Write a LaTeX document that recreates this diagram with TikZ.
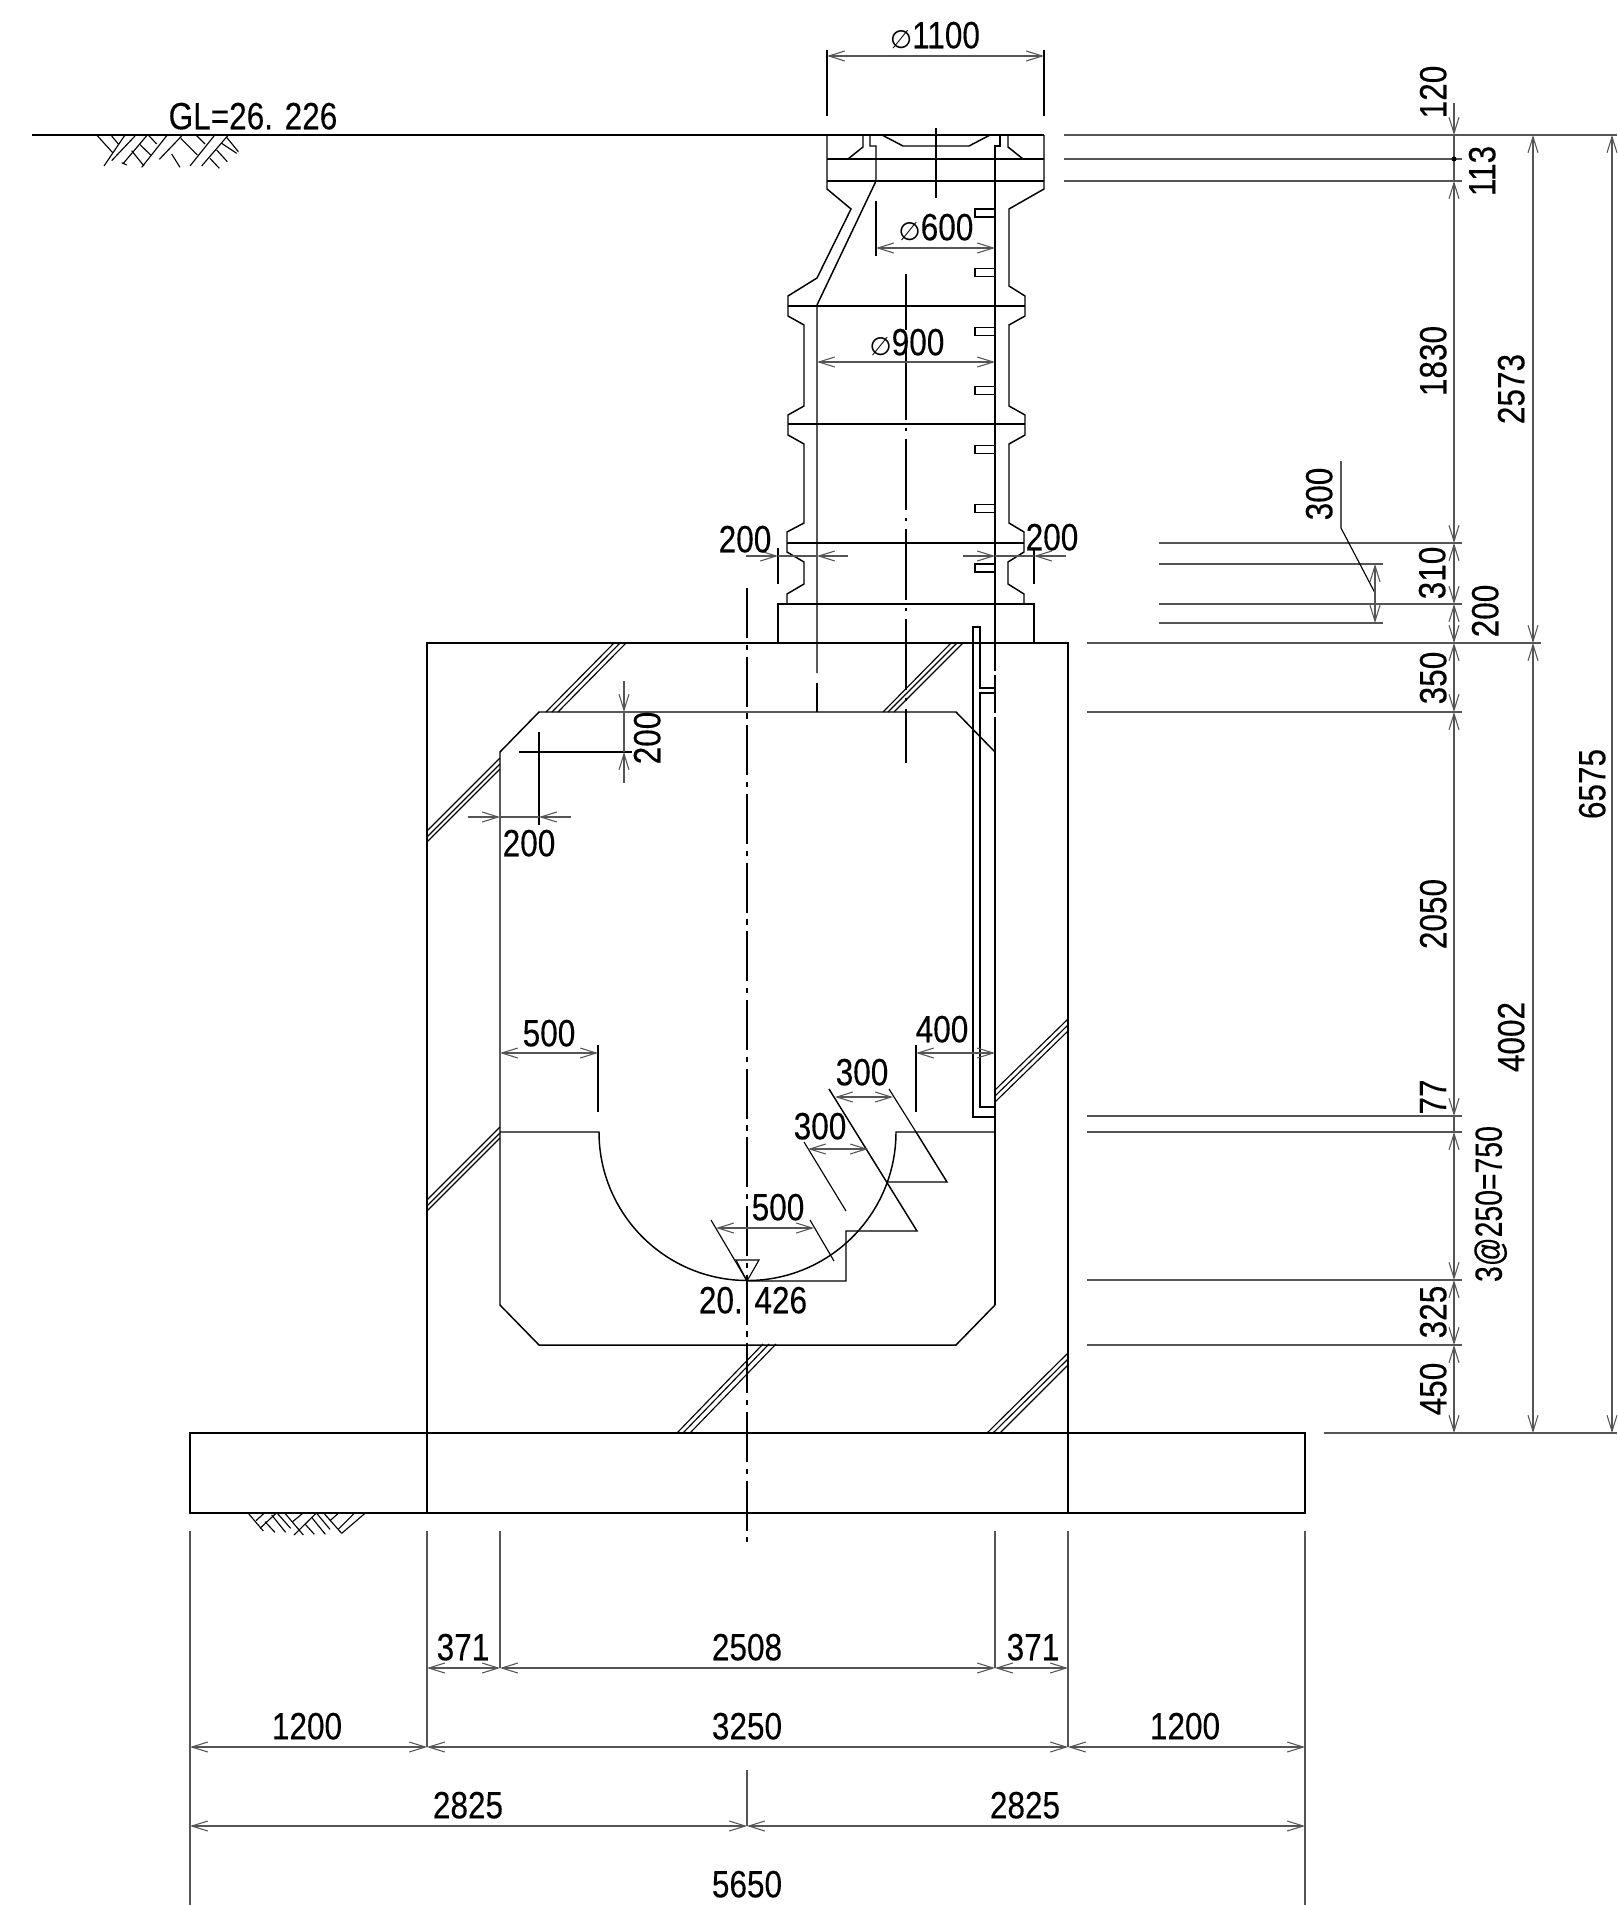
\documentclass[tikz,border=0pt]{standalone}
\usepackage{fontspec}
\setmainfont[FakeStretch=0.83,FakeBold=0.2]{Liberation Sans}
\newfontfamily\dejav{DejaVu Sans}
\usetikzlibrary{arrows.meta}
\definecolor{dimgray}{HTML}{555555}
\newcommand{\dia}{{\dejav\fontsize{19}{19}\selectfont ∅}}
\tikzset{
  part/.style={draw=black,line width=1.1pt,line join=miter},
  thin part/.style={draw=black,line width=.85pt},
  dimline/.style={draw=dimgray,line width=.8pt},
  extline/.style={draw=dimgray,line width=.9pt},
  dimarrow/.style={dimline,{Straight Barb[length=12pt,width=7.5pt]}-{Straight Barb[length=12pt,width=7.5pt]}},
  dimto/.style={dimline,-{Straight Barb[length=12pt,width=7.5pt]}},
  lbl/.style={inner sep=0pt,font=\fontsize{28.5}{30}\selectfont,text depth=0pt},
  rlbl/.style={lbl,rotate=90},
  centerl/.style={draw=black,line width=.95pt,dash pattern=on 37.5pt off 5pt on 4pt off 5pt},
  centerm/.style={draw=black,line width=.95pt,dash pattern=on 53pt off 6pt on 2.5pt off 6pt,dash phase=11pt},
}
\begin{document}
\begin{tikzpicture}[x=.75pt,y=-.75pt]
\useasboundingbox (0,0) rectangle (1617,1905);
\clip (0,0) rectangle (1617,1905);

% ground line
\draw[part] (32,135) -- (1044,135);
\draw[extline] (1064,135) -- (1617,135);

% soil hatch, top
\begin{scope}[shift={(90,130)},x=.25pt,y=-.25pt]
\foreach \a/\b/\c/\d in {20/15/68/68,65/18/85/42,105/15/42/108,135/18/65/92,172/15/100/100,95/98/110/105,125/62/162/108,148/42/182/75,175/15/200/42,232/15/155/112,275/18/208/88,272/25/322/75,245/72/270/112,318/15/345/42,372/18/300/108,415/15/335/108,380/60/412/95,360/85/388/115,395/40/440/70,410/22/445/65}
  \draw[thin part] (\a,\b) -- (\c,\d);
\end{scope}
% soil hatch, bottom
\begin{scope}[shift={(220,1400)},x=.25pt,y=-.25pt]
\foreach \a/\b/\c/\d in {85/340/130/393,132/340/108/362,170/338/120/385,135/365/165/397,155/345/197/397,172/340/212/385,195/340/250/405,248/340/218/365,288/340/222/405,255/372/283/403,275/352/316/403,290/340/330/388,312/340/365/400,355/340/330/362,403/340/355/388,435/340/365/400}
  \draw[thin part] (\a,\b) -- (\c,\d);
\end{scope}

% riser outline
\draw[part] (827,135) -- (827,189) -- (851,209) -- (817,278) -- (788,296) -- (788,316) -- (804,325) -- (804,406) -- (788,415) -- (788,435) -- (804,444) -- (804,523) -- (787,532) -- (787,552) -- (804,562) -- (804,584) -- (787,594) -- (787,604);
\draw[part] (1044,135) -- (1044,189) -- (1009,209) -- (1009,286) -- (1025,296) -- (1025,316) -- (1009,325) -- (1009,406) -- (1025,415) -- (1025,435) -- (1009,444) -- (1009,523) -- (1024,532) -- (1024,552) -- (1008,562) -- (1008,584) -- (1024,594) -- (1024,604);
\draw[part] (827,159) -- (1044,159);
\draw[part] (827,181) -- (1044,181);
\draw[part] (788,306) -- (1025,306);
\draw[part] (788,424) -- (1025,424);
\draw[part] (787,543) -- (1024,543);
% cover details
\draw[part] (863,135) -- (863,147) -- (848,159);
\draw[part] (1008,135) -- (1008,147) -- (1023,159);
\draw[part] (882,135) -- (903,146) -- (969,146) -- (990,135);
% inner walls
\draw[part] (870,135) -- (870,146) -- (876,146) -- (876,181) -- (817,305) -- (817,673);
\draw[part] (817,683) -- (817,712);
\draw[part] (1000,135) -- (1000,146) -- (995,146) -- (995,671);
\draw[part] (995,675) -- (995,713);
\draw[part] (995,717) -- (995,1305);
% ladder rungs
\foreach \r in {213,272.5,331.5,390.5,449.5,508.5,568}
  \draw[part] (995,\r-4) -- (975,\r-4) -- (975,\r+4) -- (995,\r+4);
% base block
\draw[part] (778,643) -- (778,604) -- (1034,604) -- (1034,643);
% box
\draw[part] (427,1433) -- (427,643) -- (1068,643) -- (1068,1433);
\draw[part] (190,1433) rectangle (1305,1513);
\draw[part] (427,1433) -- (427,1513);
\draw[part] (1068,1433) -- (1068,1513);
% culvert interior
\draw[part] (995,752) -- (956,712) -- (539,712) -- (500,752) -- (500,1305) -- (539,1345) -- (956,1345) -- (995,1305);
% bench and channel
\draw[part] (500,1132) -- (599,1132) arc[start angle=180,end angle=0,radius=148.5] -- (995,1132);
\draw[part] (916,1132) -- (947,1182) -- (888,1182);
\draw[part] (829,1089) -- (917,1231) -- (846,1231) -- (846,1281) -- (747,1281);
% ladder rail
\draw[part] (995,1117) -- (973,1117) -- (973,627) -- (980,627) -- (980,688) -- (995,688);
\draw[part] (995,693) -- (980,693) -- (980,1107) -- (995,1107);
% break lines
\foreach \a/\b/\c/\d in {
  546/712/614/643, 552/712/620/643, 558/712/626/643,
  427/831/500/758, 427/837/500/764, 427/842/500/769,
  883/712/951/643, 888/712/957/643, 894/712/963/643,
  995/1090/1068/1019, 995/1096/1068/1025, 995/1102/1068/1031,
  427/1200/500/1127, 427/1206/500/1133, 427/1211/500/1138,
  677/1433/763/1344, 683/1433/769/1344, 690/1433/776/1344,
  987/1433/1068/1353, 993/1433/1068/1359, 1000/1433/1068/1365}
  \draw[thin part] (\a,\b) -- (\c,\d);
% invert triangle
\draw[thin part] (736,1260) -- (759,1260) -- (747,1281) -- cycle;
% centre lines
\draw[centerl] (747,588) -- (747,1542);
\draw[part] (936,128) -- (936,198);
\draw[centerm] (906,274) -- (906,763);

% top dims
\draw[thin part] (827,50) -- (827,116);
\draw[thin part] (1044,50) -- (1044,116);
\draw[dimarrow] (827,56) -- (1044,56);
\draw[thin part] (876,201) -- (876,256);
\draw[dimarrow] (876,248) -- (995,248);
\draw[dimarrow] (817,362) -- (995,362);
% 200 at joint
\draw[thin part] (778,548) -- (778,584);
\draw[thin part] (1034,548) -- (1034,584);
\draw[dimto] (746,556) -- (778,556);
\draw[dimline] (778,556) -- (817,556);
\draw[dimto] (848,556) -- (817,556);
\draw[dimto] (963,556) -- (995,556);
\draw[dimline] (995,556) -- (1034,556);
\draw[dimto] (1066,556) -- (1034,556);
% haunch 200
\draw[thin part] (519,752) -- (632,752);
\draw[thin part] (539,732) -- (539,825);
\draw[dimto] (624,681) -- (624,712);
\draw[dimto] (624,783) -- (624,752);
\draw[dimline] (624,712) -- (624,752);
\draw[dimto] (468,817) -- (500,817);
\draw[dimline] (500,817) -- (539,817);
\draw[dimto] (571,817) -- (539,817);
% interior dims
\draw[thin part] (598,1045) -- (598,1112);
\draw[dimarrow] (500,1053) -- (598,1053);
\draw[thin part] (916,1045) -- (916,1112);
\draw[dimarrow] (916,1053) -- (995,1053);
\draw[thin part] (889,1089) -- (916,1132);
\draw[dimarrow] (835,1097) -- (893,1097);
\draw[thin part] (804,1142) -- (846,1211);
\draw[dimarrow] (808,1149) -- (868,1149);
\draw[thin part] (711,1220) -- (747,1281);
\draw[thin part] (810,1220) -- (834,1261);
\draw[dimarrow] (716,1228) -- (814,1228);

% right extension lines
\draw[extline] (1064,159) -- (1462,159);
\draw[extline] (1064,181) -- (1462,181);
\draw[extline] (1159,543) -- (1462,543);
\draw[extline] (1159,564) -- (1383,564);
\draw[extline] (1159,604) -- (1462,604);
\draw[extline] (1159,623) -- (1383,623);
\draw[extline] (1087,643) -- (1541,643);
\draw[extline] (1087,712) -- (1462,712);
\draw[extline] (1087,1116) -- (1462,1116);
\draw[extline] (1087,1132) -- (1462,1132);
\draw[extline] (1087,1280) -- (1462,1280);
\draw[extline] (1087,1345) -- (1462,1345);
\draw[extline] (1324,1433) -- (1617,1433);
% right dims
\draw[dimto] (1454,103) -- (1454,135);
\draw[dimline] (1454,135) -- (1454,181);
\fill[black] (1454,159) circle[radius=2.5];
\draw[dimarrow] (1454,181) -- (1454,543);
\draw[dimarrow] (1454,543) -- (1454,604);
\draw[dimarrow] (1454,604) -- (1454,643);
\draw[dimarrow] (1454,643) -- (1454,712);
\draw[dimarrow] (1454,712) -- (1454,1116);
\draw[dimline] (1454,1116) -- (1454,1132);
\draw[dimarrow] (1454,1132) -- (1454,1280);
\draw[dimarrow] (1454,1280) -- (1454,1345);
\draw[dimarrow] (1454,1345) -- (1454,1433);
\draw[dimarrow] (1533,135) -- (1533,643);
\draw[dimarrow] (1533,643) -- (1533,1433);
\draw[dimarrow] (1612,135) -- (1612,1433);
% 300 leader
\draw[thin part] (1341,461) -- (1341,528) -- (1375,593);
\draw[dimarrow] (1375,564) -- (1375,623);

% bottom extension lines
\draw[extline] (190,1531) -- (190,1905);
\draw[extline] (1305,1531) -- (1305,1905);
\draw[extline] (427,1531) -- (427,1747);
\draw[extline] (1068,1531) -- (1068,1747);
\draw[extline] (500,1531) -- (500,1668);
\draw[extline] (995,1531) -- (995,1668);
\draw[extline] (747,1770) -- (747,1826);
% bottom dims
\draw[dimarrow] (427,1668) -- (500,1668);
\draw[dimarrow] (500,1668) -- (995,1668);
\draw[dimarrow] (995,1668) -- (1068,1668);
\draw[dimarrow] (190,1747) -- (427,1747);
\draw[dimarrow] (427,1747) -- (1068,1747);
\draw[dimarrow] (1068,1747) -- (1305,1747);
\draw[dimarrow] (190,1826) -- (747,1826);
\draw[dimarrow] (747,1826) -- (1305,1826);

% labels
\node[lbl] (gl) at (253,116) {GL=26. 226};
\node[lbl] (d1100) at (935,35) {\dia 1100};
\node[lbl] (d600) at (936,227) {\dia 600};
\node[lbl] (d900) at (907,342) {\dia 900};
\node[lbl] (a200l) at (745,539) {200};
\node[lbl] (a200r) at (1052,537) {200};
\node[rlbl] (a200h) at (647,738) {200};
\node[lbl] (a200b) at (529,843) {200};
\node[lbl] (a500) at (549,1033) {500};
\node[lbl] (a400) at (942,1029) {400};
\node[lbl] (a300t) at (862,1072) {300};
\node[lbl] (a300b) at (820,1126) {300};
\node[lbl] (a500b) at (778,1207) {500};
\node[lbl] (inv) at (753,1300) {20. 426};
\node[rlbl] (r120) at (1433,92) {120};
\node[rlbl] (r113) at (1482,171) {113};
\node[rlbl] (r1830) at (1433,361) {1830};
\node[rlbl] (r2573) at (1511,389) {2573};
\node[rlbl] (r300) at (1319,494) {300};
\node[rlbl] (r310) at (1432,573) {310};
\node[rlbl] (r200) at (1485,611) {200};
\node[rlbl] (r350) at (1433,678) {350};
\node[rlbl] (r6575) at (1592,784) {6575};
\node[rlbl] (r2050) at (1433,914) {2050};
\node[rlbl] (r4002) at (1511,1037) {4002};
\node[rlbl] (r77) at (1433,1097) {77};
\node[rlbl] (r750) at (1488,1204) {\scalebox{.9}[1]{3@250=750}};
\node[rlbl] (r325) at (1433,1312) {325};
\node[rlbl] (r450) at (1433,1389) {450};
\node[lbl] (b371l) at (463,1647) {371};
\node[lbl] (b2508) at (747,1647) {2508};
\node[lbl] (b371r) at (1033,1647) {371};
\node[lbl] (b1200l) at (307,1726) {1200};
\node[lbl] (b3250) at (747,1726) {3250};
\node[lbl] (b1200r) at (1185,1726) {1200};
\node[lbl] (b2825l) at (468,1805) {2825};
\node[lbl] (b2825r) at (1025,1805) {2825};
\node[lbl] (b5650) at (747,1884) {5650};
\end{tikzpicture}
\end{document}
